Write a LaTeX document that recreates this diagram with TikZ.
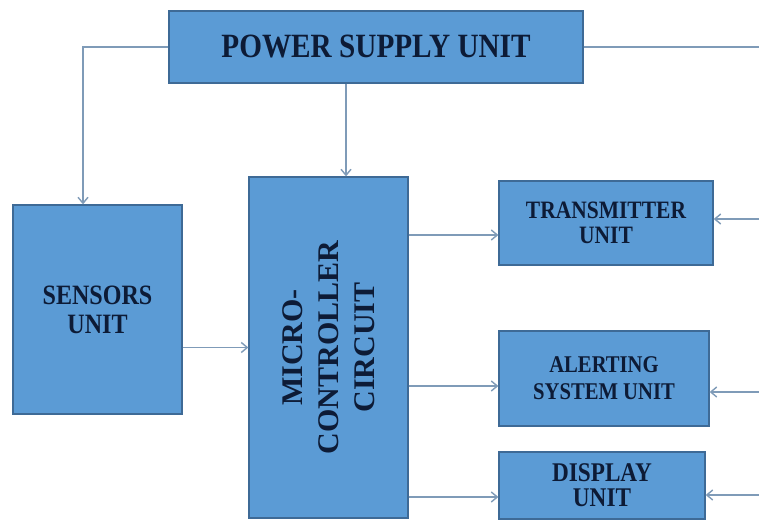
\documentclass[tikz,border=0pt]{standalone}
\usepackage{fontspec}
\setmainfont{Liberation Serif}[FakeStretch=0.86]
\newfontfamily\rotfont{Liberation Serif}
\usetikzlibrary{arrows.meta,calc}
\definecolor{boxfill}{HTML}{5B9BD5}
\definecolor{boxedge}{HTML}{3E6A96}
\definecolor{wire}{HTML}{7F9BB8}
\definecolor{ink}{HTML}{0D1B36}
\newcommand{\fsz}[2]{\fontsize{#1}{#2}\selectfont\bfseries}

\begin{document}
\begin{tikzpicture}[x=1pt,y=-1pt,
  blk/.style={draw=boxedge,line width=1.3pt,fill=boxfill,text=ink,inner sep=0pt,align=center},
  link/.style={draw=wire,line width=1.4pt,-{Straight Barb[length=6pt,width=10pt]}},
  rail/.style={draw=wire,line width=1.4pt}]
\useasboundingbox[fill=white] (0,0) rectangle (759,521);
% blocks
\node[blk,minimum width=414pt,minimum height=72pt,font=\fsz{34}{36}] (psu) at (376,47) {POWER SUPPLY UNIT};
\node[blk,minimum width=169pt,minimum height=209pt,font=\fsz{28}{29}] (sens) at (97.5,309.5) {SENSORS\\UNIT};
\node[blk,minimum width=159pt,minimum height=341pt] (mcu) at (328.5,347.5) {};
\node[rotate=90,align=center,text=ink,inner sep=0pt,font=\rotfont\fsz{30}{36}] (mcutxt) at (mcu) {MICRO-\\CONTROLLER\\CIRCUIT};
\node[blk,minimum width=214pt,minimum height=84pt,font=\fsz{25}{25}] (tx) at (606,223) {TRANSMITTER\\UNIT};
\node[blk,minimum width=210pt,minimum height=95pt,font=\fsz{24}{27}] (al) at (604,378.5) {ALERTING\\SYSTEM UNIT};
\node[blk,minimum width=206pt,minimum height=67pt,font=\fsz{27}{25}] (disp) at (602,485.5) {DISPLAY\\UNIT};
% connection points
\coordinate (redge) at (759,0);
\coordinate (txin) at ($(tx.west)+(0,12)$);
\coordinate (alin) at ($(al.west)+(0,7.5)$);
\coordinate (dispin) at ($(disp.west)+(0,11.5)$);
\coordinate (txout) at ($(tx.east)+(0,-4)$);
\coordinate (alout) at ($(al.east)+(0,13.5)$);
\coordinate (dispout) at ($(disp.east)+(0,9.5)$);
\coordinate (psudown) at ($(psu.south)+(-30,0)$);
\coordinate (sensup) at ($(sens.north)+(-14.5,0)$);
% power lines
\draw[link] (psu.west) -| (sensup);
\draw[link] (psudown) -- (psudown |- mcu.north);
\draw[rail] (psu.east) -- (psu.east -| redge);
% signal lines
\draw[link] (sens.east |- mcu) -- (mcu.west);
\draw[link] (mcu.east |- txin) -- (txin);
\draw[link] (mcu.east |- alin) -- (alin);
\draw[link] (mcu.east |- dispin) -- (dispin);
\draw[link] (redge |- txout) -- (txout);
\draw[link] (redge |- alout) -- (alout);
\draw[link] (redge |- dispout) -- (dispout);
\end{tikzpicture}
\end{document}
